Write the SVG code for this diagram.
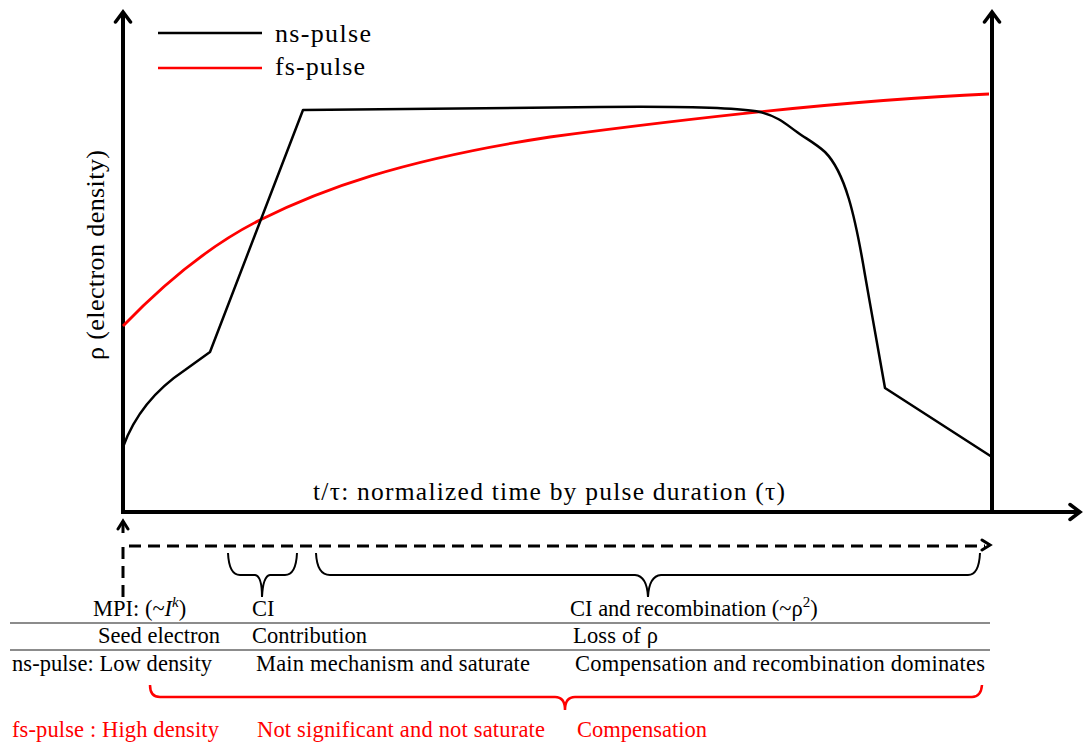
<svg xmlns="http://www.w3.org/2000/svg" width="1087" height="744" viewBox="0 0 1087 744">
<style>
text{font-family:"Liberation Serif","Times New Roman",serif;fill:#000}
.lbl{font-size:22.5px}
.red{fill:#ff0000}
.axis{stroke:#000;stroke-width:4;fill:none}
.ns{stroke:#000;stroke-width:2.5;fill:none;stroke-linejoin:round}
.fs{stroke:#ff0000;stroke-width:2.8;fill:none}
.brace{stroke:#000;stroke-width:2;fill:none}
.rbrace{stroke:#ff0000;stroke-width:2.5;fill:none}
.dash{stroke:#000;stroke-width:3;fill:none;stroke-dasharray:12 7}
.rule{stroke:#8c8c8c;stroke-width:2}
</style>
<defs>
<marker id="big" markerUnits="userSpaceOnUse" markerWidth="24" markerHeight="24" viewBox="-12 -12 24 24" refX="0" refY="0" orient="auto">
<path d="M-10,-7.5 L0,0 L-10,7.5" fill="none" stroke="#000" stroke-width="3.5" stroke-linecap="round" stroke-linejoin="miter"/>
</marker>
<marker id="small" markerUnits="userSpaceOnUse" markerWidth="20" markerHeight="20" viewBox="-10 -10 20 20" refX="0" refY="0" orient="auto">
<path d="M-8,-5 L0,0 L-8,5" fill="none" stroke="#000" stroke-width="3" stroke-linecap="round"/>
</marker>
</defs>

<g id="connectors">
<line class="axis" x1="123" y1="514" x2="123" y2="12" marker-end="url(#big)"/>
<line class="axis" x1="121" y1="512" x2="1080" y2="512" marker-end="url(#big)"/>
<line class="axis" x1="992" y1="514" x2="992" y2="12" marker-end="url(#big)"/>
<path class="dash" d="M123,597 L123,546 L985,546"/>
<line x1="989" y1="545" x2="990" y2="545" stroke="#000" stroke-width="3" marker-end="url(#small)"/>
<line x1="123" y1="533" x2="123" y2="521" stroke="#000" stroke-width="3" marker-end="url(#small)"/>
</g>

<g id="curves">
<path class="fs" d="M123,326 C150,298 200,250 260,220 C320,190 400,160 550,137 C700,117 850,100 989,94"/>
<path class="ns" d="M123,447 Q140,400 185,370 L210,352 L303,110 L600,107 C700,106 740,108 760,112 C780,117 788,126 797,132 C805,138 815,143 825,152 C845,172 855,215 865,275 C872,315 880,360 885,388 L992,457"/>
</g>

<g id="legend">
<line x1="158" y1="33" x2="262" y2="33" stroke="#000" stroke-width="2.5"/>
<text x="275" y="42" font-size="26" textLength="96" lengthAdjust="spacing">ns-pulse</text>
<line x1="158" y1="68" x2="262" y2="68" stroke="#ff0000" stroke-width="2.5"/>
<text x="275" y="75" font-size="26" textLength="90" lengthAdjust="spacing">fs-pulse</text>
</g>

<g id="axis-labels">
<text x="313" y="500" font-size="25.5" textLength="472" lengthAdjust="spacing">t/τ: normalized time by pulse duration (τ)</text>
<text transform="translate(104,360) rotate(-90)" font-size="26" textLength="210" lengthAdjust="spacing">ρ (electron density)</text>
</g>

<g id="braces">
<path class="brace" d="M228,553 Q229,575 240,575 L255,575 Q262,576 262,597 Q263,576 270,575 L285,575 Q296,575 297,553"/>
<path class="brace" d="M316,553 Q317,575 330,575 L635,575 Q647,576 648,597 Q649,576 661,575 L968,575 Q979,575 980,553"/>
<path class="rbrace" d="M150,685 Q150,697 160,697 L555,697 Q565,697 565,710 Q565,697 575,697 L972,697 Q981,697 982,685"/>
</g>

<g id="rules">
<line class="rule" x1="10" y1="623" x2="990" y2="623"/>
<line class="rule" x1="10" y1="650" x2="990" y2="650"/>
</g>

<g id="table-text">
<text class="lbl" x="93" y="616">MPI: (~<tspan font-style="italic">I</tspan><tspan font-style="italic" font-size="15" dy="-9">k</tspan><tspan dy="9">)</tspan></text>
<text class="lbl" x="252" y="616">CI</text>
<text class="lbl" x="570" y="616">CI and recombination (~ρ<tspan font-size="15" dy="-9">2</tspan><tspan dy="9">)</tspan></text>
<text class="lbl" x="98" y="643" textLength="122" lengthAdjust="spacing">Seed electron</text>
<text class="lbl" x="252" y="643" textLength="115" lengthAdjust="spacing">Contribution</text>
<text class="lbl" x="573" y="643" textLength="85" lengthAdjust="spacing">Loss of ρ</text>
<text class="lbl" x="12" y="671" textLength="200" lengthAdjust="spacing">ns-pulse: Low density</text>
<text class="lbl" x="256" y="671" textLength="274" lengthAdjust="spacing">Main mechanism and saturate</text>
<text class="lbl" x="575" y="671" textLength="410" lengthAdjust="spacing">Compensation and recombination dominates</text>
<text class="lbl red" x="12" y="737" textLength="207" lengthAdjust="spacing">fs-pulse : High density</text>
<text class="lbl red" x="257" y="737" textLength="288" lengthAdjust="spacing">Not significant and not saturate</text>
<text class="lbl red" x="577" y="737" textLength="130" lengthAdjust="spacing">Compensation</text>
</g>
</svg>
